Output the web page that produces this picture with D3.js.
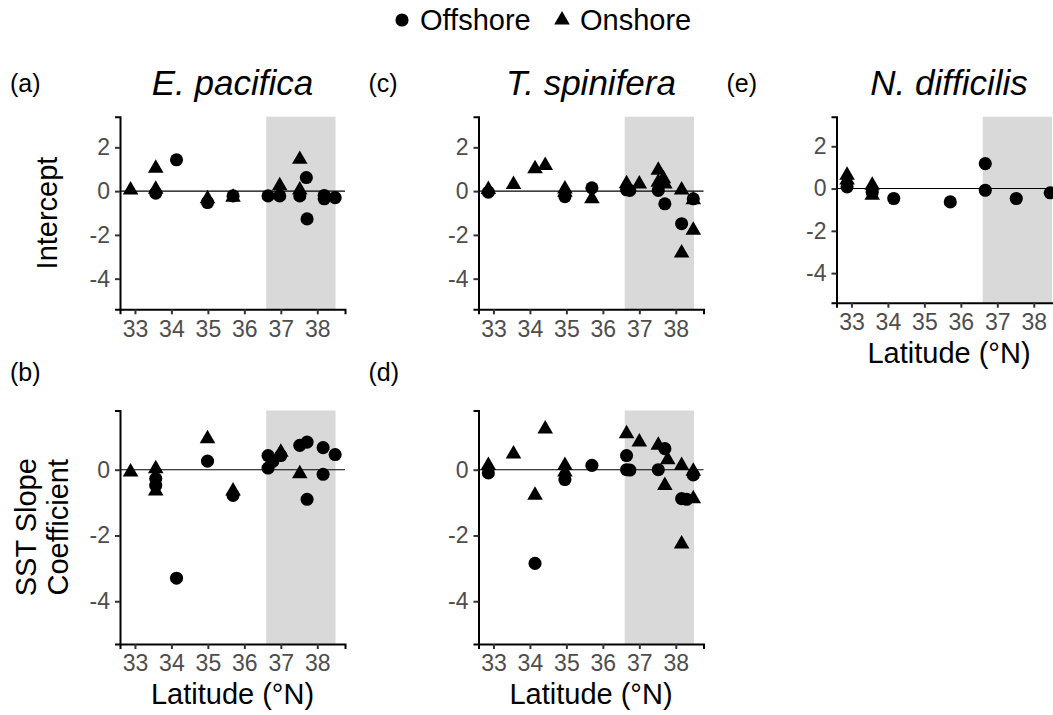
<!DOCTYPE html>
<html><head><meta charset="utf-8">
<script src="https://cdn.jsdelivr.net/npm/d3@7"></script>
<style>body{margin:0;background:#fff;overflow:hidden}svg{display:block;font-family:"Liberation Sans",Arial,sans-serif}</style>
</head><body><svg id="c" width="1053" height="715"></svg>
<script>
// ---- data (latitude °N, coefficient) ----
const latTicks = [33, 34, 35, 36, 37, 38];
const interceptTicks = [2, 0, -2, -4];
const slopeTicks = [0, -2, -4];
const shadedLat = [36.6, 38.5];

const epInterceptOffshore = [[33.57,-0.09],[34.14,1.43],[34.99,-0.52],[35.69,-0.22],[36.65,-0.22],[36.97,-0.22],[37.52,-0.22],[37.70,0.62],[37.72,-1.27],[38.19,-0.20],[38.19,-0.35],[38.49,-0.30]];
const epInterceptOnshore  = [[32.88,0.05],[33.57,1.05],[33.57,0.08],[34.99,-0.35],[35.69,-0.28],[36.97,0.25],[37.52,1.45],[37.52,0.05]];
const epSlopeOffshore = [[33.57,-0.27],[33.57,-0.48],[34.14,-3.30],[34.99,0.26],[35.69,-0.78],[36.65,0.43],[36.65,0.05],[36.78,0.25],[37.00,0.43],[37.52,0.74],[37.72,0.84],[37.72,-0.90],[38.16,0.67],[38.16,-0.14],[38.49,0.46]];
const epSlopeOnshore  = [[32.88,-0.07],[33.57,0.03],[33.57,-0.65],[34.99,0.94],[35.69,-0.65],[37.00,0.53],[37.52,-0.12]];
const tsInterceptOffshore = [[32.86,-0.05],[34.96,-0.25],[35.70,0.15],[36.65,0.06],[36.74,0.03],[37.52,0.03],[37.70,-0.58],[38.16,-1.49],[38.48,-0.35]];
const tsInterceptOnshore  = [[32.86,0.07],[33.55,0.30],[34.14,1.02],[34.42,1.17],[34.96,0.10],[34.96,-0.05],[35.70,-0.35],[36.65,0.34],[37.00,0.33],[37.52,0.95],[37.52,0.40],[37.66,0.57],[37.70,0.33],[38.16,0.05],[38.16,-2.83],[38.48,-0.40],[38.48,-1.79]];
const tsSlopeOffshore = [[32.86,-0.10],[34.14,-2.85],[34.96,-0.30],[35.70,0.13],[36.65,0.43],[36.65,0.00],[36.74,-0.01],[37.52,0.00],[37.70,0.64],[38.16,-0.88],[38.30,-0.90],[38.48,-0.16]];
const tsSlopeOnshore  = [[32.86,0.13],[33.55,0.48],[34.14,-0.78],[34.42,1.24],[34.96,0.13],[34.96,-0.07],[36.65,1.09],[37.00,0.84],[37.52,0.74],[37.78,0.30],[37.70,-0.48],[38.16,0.13],[38.16,-2.26],[38.48,-0.05],[38.48,-0.88]];
const ndInterceptOffshore = [[32.88,0.08],[33.57,-0.17],[34.16,-0.47],[35.71,-0.63],[36.67,1.18],[36.67,-0.08],[37.52,-0.47],[38.45,-0.20]];
const ndInterceptOnshore  = [[32.88,0.63],[32.88,0.40],[33.57,0.16],[33.57,-0.32]];

const legendLabels = ["Offshore", "Onshore"];

// ---- layout ----
const svg = d3.select("#c");
const xDomain = [32.59, 38.76];
const row1 = {y0: 116.7, y1: 309.3, dom: [-5.4, 3.4], ticks: interceptTicks};
const row2 = {y0: 410.5, y1: 644, dom: [-5.3, 1.8], ticks: slopeTicks};
const panels = [
  {tag:"(a)", title:"E. pacifica", x0:120, row:row1, off:epInterceptOffshore, on:epInterceptOnshore},
  {tag:"(c)", title:"T. spinifera", x0:478.5, row:row1, off:tsInterceptOffshore, on:tsInterceptOnshore},
  {tag:"(e)", title:"N. difficilis", x0:836.5, row:{y0:116.7, y1:302.7, dom:[-5.4,3.4], ticks:interceptTicks}, off:ndInterceptOffshore, on:ndInterceptOnshore, xtitle:true},
  {tag:"(b)", x0:120, row:row2, off:epSlopeOffshore, on:epSlopeOnshore, xtitle:true},
  {tag:"(d)", x0:478.5, row:row2, off:tsSlopeOffshore, on:tsSlopeOnshore, xtitle:true}
];
const W = 225;
const circle = d3.symbol().type(d3.symbolCircle).size(135);
const tri = d3.symbol().type(d3.symbolTriangle).size(105);

panels.forEach(p => {
  const x = d3.scaleLinear().domain(xDomain).range([p.x0, p.x0 + W]);
  const y = d3.scaleLinear().domain(p.row.dom).range([p.row.y1, p.row.y0]);
  const g = svg.append("g");
  // shaded band
  g.append("rect").attr("x", x(shadedLat[0])).attr("width", x(shadedLat[1]) - x(shadedLat[0]))
    .attr("y", p.row.y0).attr("height", p.row.y1 - p.row.y0).attr("fill", "#d9d9d9");
  // zero line
  g.append("line").attr("x1", x.range()[0]).attr("x2", x.range()[1]).attr("y1", y(0)).attr("y2", y(0))
    .attr("stroke", "#000").attr("stroke-width", 1.1);
  // points
  g.selectAll(".off").data(p.off).join("path").attr("d", circle)
    .attr("transform", d => `translate(${x(d[0])},${y(d[1])})`).attr("fill", "#000");
  g.selectAll(".on").data(p.on).join("path").attr("d", tri)
    .attr("transform", d => `translate(${x(d[0])},${y(d[1])})`).attr("fill", "#000");
  // axes
  const xa = g.append("g").attr("transform", `translate(0,${p.row.y1})`)
    .call(d3.axisBottom(x).tickValues(latTicks).tickSize(5).tickPadding(6).tickFormat(d3.format("d")));
  const ya = g.append("g").attr("transform", `translate(${p.x0},0)`)
    .call(d3.axisLeft(y).tickValues(p.row.ticks).tickSize(5).tickPadding(5).tickFormat(d => d < 0 ? "-" + Math.abs(d) : d));
  [xa, ya].forEach(a => {
    a.select(".domain").attr("stroke", "#000").attr("stroke-width", 2);
    a.selectAll(".tick line").attr("stroke", "#333").attr("stroke-width", 2);
    a.selectAll(".tick text").attr("fill", "#4d4d4d").style("font-size", "23px").style("font-family", "Liberation Sans, Arial, sans-serif");
  });
  // titles
  if (p.title) {
    svg.append("text").attr("x", p.x0 + W / 2).attr("y", 95).attr("text-anchor", "middle")
      .style("font-size", "35px").style("font-style", "italic").text(p.title);
  }
  svg.append("text").attr("x", p.x0 - 110).attr("y", p.row === row2 ? 381 : 92)
    .style("font-size", "25px").text(p.tag);
  if (p.xtitle) {
    svg.append("text").attr("x", p.x0 + W / 2).attr("y", p.row.y1 + 60).attr("text-anchor", "middle")
      .style("font-size", "29px").text("Latitude (°N)");
  }
});

// y titles
svg.append("text").attr("transform", `translate(57,${(row1.y0 + row1.y1) / 2}) rotate(-90)`)
  .attr("text-anchor", "middle").style("font-size", "29px").text("Intercept");
svg.append("text").attr("transform", `translate(36,${(row2.y0 + row2.y1) / 2}) rotate(-90)`)
  .attr("text-anchor", "middle").style("font-size", "29px").text("SST Slope");
svg.append("text").attr("transform", `translate(68,${(row2.y0 + row2.y1) / 2}) rotate(-90)`)
  .attr("text-anchor", "middle").style("font-size", "29px").text("Coefficient");

// legend
const lg = svg.append("g");
lg.append("path").attr("d", circle).attr("transform", "translate(402,20)");
lg.append("text").attr("x", 420).attr("y", 30).style("font-size", "29px").text(legendLabels[0]);
lg.append("path").attr("d", tri).attr("transform", "translate(562,20)");
lg.append("text").attr("x", 580).attr("y", 30).style("font-size", "29px").text(legendLabels[1]);
</script></body></html>
